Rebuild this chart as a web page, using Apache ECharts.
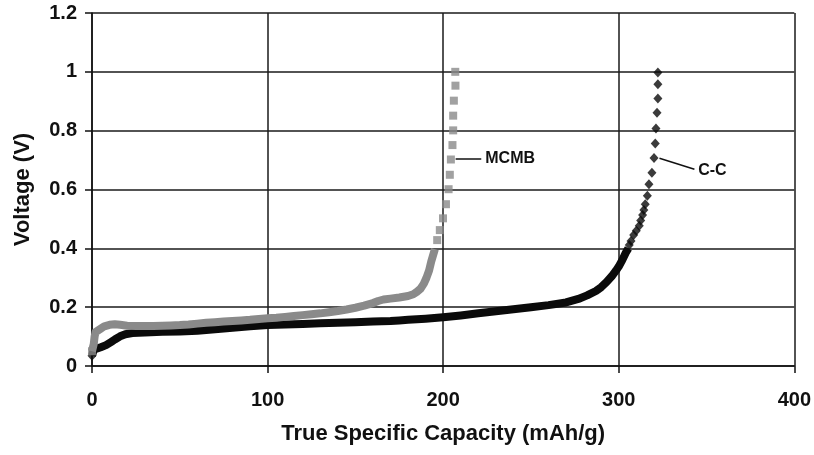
<!DOCTYPE html>
<html>
<head>
<meta charset="utf-8">
<script src="https://cdn.jsdelivr.net/npm/echarts@6/dist/echarts.min.js"></script>
<style>
html,body{margin:0;padding:0;background:#fff;}
#chart{width:814px;height:455px;}
</style>
</head>
<body>
<div id="chart"></div>
<script>
// Dense part of the MCMB curve [capacity mAh/g, voltage V]
const mcmbDense = [[0,0.05],[0.5,0.055],[1,0.075],[1.5,0.1],[2,0.115],[3,0.12],[5,0.127],[7,0.135],[10,0.14],[13,0.142],[16,0.14],[20,0.137],[25,0.136],[30,0.136],[35,0.136],[40,0.137],[45,0.138],[50,0.139],[55,0.141],[60,0.144],[65,0.147],[70,0.149],[75,0.151],[80,0.153],[85,0.155],[90,0.157],[95,0.16],[100,0.162],[105,0.164],[110,0.167],[115,0.17],[120,0.173],[125,0.176],[130,0.179],[135,0.183],[140,0.187],[145,0.192],[150,0.198],[155,0.205],[160,0.214],[163,0.221],[166,0.226],[170,0.229],[175,0.233],[180,0.238],[183,0.244],[185,0.252],[187,0.262],[189,0.28],[190.5,0.3],[192,0.325],[193.2,0.355],[194.2,0.375],[195.3,0.397]];
// Sparse (separate markers) part of the MCMB curve
const mcmbSparse = [[0,0.05],[196.6,0.428],[198.1,0.462],[199.9,0.502],[201.6,0.55],[203.1,0.601],[203.8,0.65],[204.4,0.702],[205.3,0.751],[205.7,0.801],[205.7,0.851],[206.1,0.902],[207,0.953],[206.9,1.0]];
// Dense part of the C-C curve
const ccDense = [[0,0.035],[0.5,0.045],[1,0.055],[3,0.06],[5,0.064],[8,0.071],[11,0.082],[13,0.09],[16,0.101],[19,0.108],[23,0.112],[30,0.114],[40,0.116],[50,0.117],[60,0.12],[70,0.125],[80,0.13],[90,0.135],[100,0.139],[110,0.141],[120,0.143],[130,0.145],[140,0.147],[150,0.149],[160,0.151],[170,0.153],[175,0.155],[180,0.157],[190,0.161],[200,0.166],[210,0.172],[220,0.179],[230,0.186],[240,0.193],[250,0.2],[260,0.207],[270,0.216],[277,0.228],[282,0.24],[287,0.255],[290,0.268],[293,0.285],[296,0.305],[298.5,0.325],[300,0.338],[302,0.36],[304,0.385],[305.5,0.4]];
// Sparse part of the C-C curve
const ccSparse = [[0,0.035],[306,0.411],[307,0.425],[308.5,0.445],[310,0.46],[311.7,0.477],[312.5,0.495],[313.6,0.513],[314.3,0.53],[315.1,0.55],[316.3,0.579],[317.2,0.618],[318.9,0.657],[320.1,0.707],[320.8,0.756],[321.2,0.807],[321.8,0.861],[322.3,0.909],[322.3,0.958],[322.3,0.998]];
// Label leader lines
const mcmbLeader = [[207.1,0.706],[221.7,0.706]];
const ccLeader = [[323.2,0.706],[343.1,0.669]];
const xTitle = 'True Specific Capacity (mAh/g)';
const yTitle = 'Voltage (V)';

const GREY = '#8a8a8a';
const BLACK = '#0a0a0a';
const FONT = '"Liberation Sans", Arial, Helvetica, sans-serif';

const chart = echarts.init(document.getElementById('chart'), null, {renderer:'canvas'});
chart.setOption({
  animation: false,
  backgroundColor: '#fff',
  grid: {left: 92, right: 18, top: 13, bottom: 89, containLabel: false},
  xAxis: {
    type: 'value', min: 0, max: 400, interval: 100,
    name: xTitle, nameLocation: 'middle', nameGap: 57,
    nameTextStyle: {fontFamily: FONT, fontWeight: 'bold', fontSize: 22, color: '#111'},
    axisLine: {show: true, lineStyle: {color: '#111', width: 1.5}},
    axisTick: {show: true, length: 7, lineStyle: {color: '#111', width: 1.5}},
    axisLabel: {fontFamily: FONT, fontWeight: 'bold', fontSize: 20, color: '#111', margin: 24},
    splitLine: {show: true, lineStyle: {color: '#1a1a1a', width: 1.5}}
  },
  yAxis: {
    type: 'value', min: 0, max: 1.2, interval: 0.2,
    name: yTitle, nameLocation: 'middle', nameGap: 58, nameRotate: 90,
    nameTextStyle: {fontFamily: FONT, fontWeight: 'bold', fontSize: 22, color: '#111'},
    axisLine: {show: true, lineStyle: {color: '#111', width: 1.5}},
    axisTick: {show: true, length: 7, lineStyle: {color: '#111', width: 1.5}},
    axisLabel: {fontFamily: FONT, fontWeight: 'bold', fontSize: 20, color: '#111', margin: 15},
    splitLine: {show: true, lineStyle: {color: '#1a1a1a', width: 1.5}}
  },
  series: [
    {type: 'line', data: ccDense, showSymbol: false, symbol: 'none', z: 3,
     lineStyle: {color: BLACK, width: 8, cap: 'butt', join: 'round'}},
    {type: 'scatter', data: ccSparse, symbol: 'diamond', symbolSize: [9, 10], z: 3,
     itemStyle: {color: BLACK},
     markLine: {silent: true, symbol: 'none', data: [[{coord: ccLeader[0]}, {coord: ccLeader[1]}]],
       lineStyle: {color: '#111', width: 1.5, type: 'solid'},
       label: {show: true, position: 'end', formatter: 'C-C', distance: 4,
         fontFamily: FONT, fontWeight: 'bold', fontSize: 16, color: '#111'}}},
    {type: 'line', data: mcmbDense, showSymbol: false, symbol: 'none', z: 4,
     lineStyle: {color: GREY, width: 8, cap: 'butt', join: 'round'}},
    {type: 'scatter', data: mcmbSparse, symbol: 'rect', symbolSize: 8, z: 4,
     itemStyle: {color: GREY},
     markLine: {silent: true, symbol: 'none', data: [[{coord: mcmbLeader[0]}, {coord: mcmbLeader[1]}]],
       lineStyle: {color: '#111', width: 1.5, type: 'solid'},
       label: {show: true, position: 'end', formatter: 'MCMB', distance: 4,
         fontFamily: FONT, fontWeight: 'bold', fontSize: 16, color: '#111'}}}
  ]
});
</script>
</body>
</html>
